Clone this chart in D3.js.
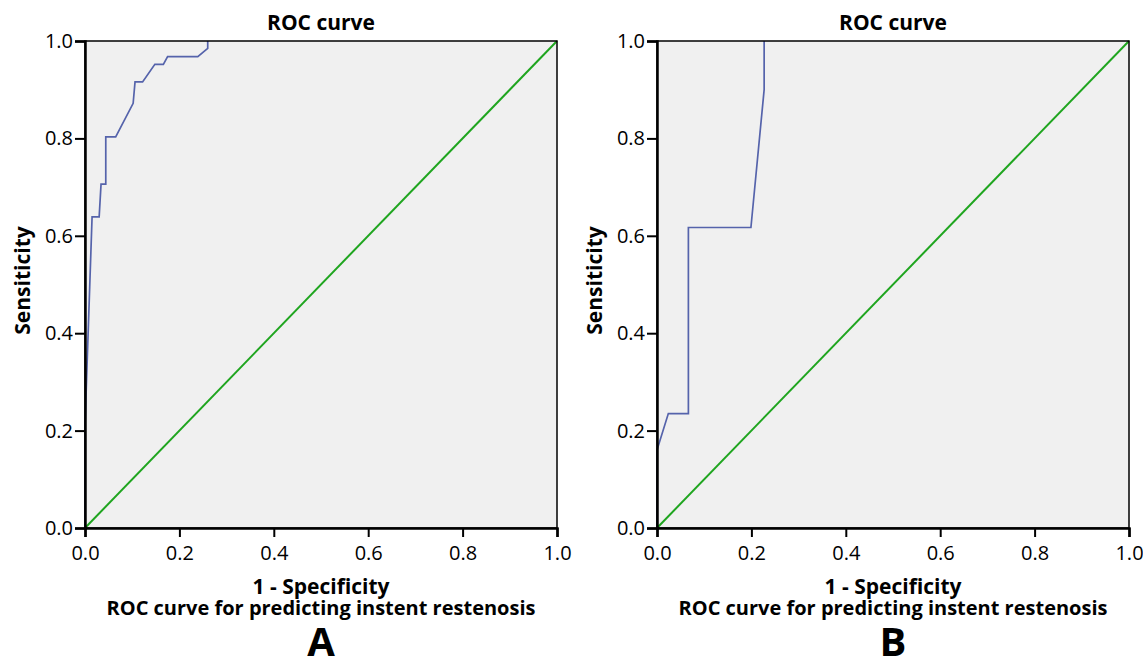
<!DOCTYPE html>
<html>
<head>
<meta charset="utf-8">
<script src="https://cdn.jsdelivr.net/npm/d3@7"></script>
<style>
  body { margin: 0; background: #fff; }
  svg text { font-family: "Open Sans", "Noto Sans", sans-serif; fill: #000; }
</style>
</head>
<body>
<svg id="chart" width="1143" height="660"></svg>
<script>
// ROC points (1 - specificity, sensitivity)
const fprA = [0, 0, 0.015, 0.030, 0.034, 0.044, 0.044, 0.065, 0.102, 0.106, 0.122, 0.148, 0.166, 0.175, 0.239, 0.260, 0.260];
const tprA = [0, 0.21, 0.639, 0.639, 0.706, 0.706, 0.803, 0.803, 0.872, 0.916, 0.916, 0.952, 0.952, 0.968, 0.968, 0.985, 1.0];
const fprB = [0, 0, 0.024, 0.0665, 0.0665, 0.199, 0.227, 0.227];
const tprB = [0, 0.16, 0.235, 0.235, 0.617, 0.617, 0.90, 1.0];
const refLine = [0, 1];
const ticks = [0, 0.2, 0.4, 0.6, 0.8, 1.0];
const panelLetters = ["A", "B"];

const svg = d3.select("#chart");

// one panel = one ROC plot
function drawPanel(left, fpr, tpr, letter) {
    const w = 472, h = 487, top = 41;
    const g = svg.append("g").attr("transform", `translate(${left},${top})`);

    const x = d3.scaleLinear().domain([0, 1]).range([0, w]);
    const y = d3.scaleLinear().domain([0, 1]).range([h, 0]);

    g.append("rect")
        .attr("width", w).attr("height", h)
        .attr("fill", "#f0f0f0");

    const line = d3.line()
        .x(d => x(d[0]))
        .y(d => y(d[1]));

    // reference diagonal
    g.append("path")
        .datum(refLine.map(v => [v, v]))
        .attr("d", line)
        .attr("fill", "none")
        .attr("stroke", "#1fa51f")
        .attr("stroke-width", 2);

    g.append("path")
        .datum(fpr.map((v, i) => [v, tpr[i]]))
        .attr("d", line)
        .attr("fill", "none")
        .attr("stroke", "#5563ab")
        .attr("stroke-width", 1.7);

    // frame
    g.append("rect")
        .attr("width", w).attr("height", h)
        .attr("fill", "none")
        .attr("stroke", "#000")
        .attr("stroke-width", 1.5);

    const xAxis = g.append("g")
        .attr("transform", `translate(0,${h})`)
        .call(d3.axisBottom(x).tickValues(ticks).tickFormat(d3.format(".1f")).tickSize(9).tickPadding(9));
    const yAxis = g.append("g")
        .call(d3.axisLeft(y).tickValues(ticks).tickFormat(d3.format(".1f")).tickSize(10).tickPadding(2));

    [xAxis, yAxis].forEach(a => {
        a.select(".domain").attr("stroke", "#000").attr("stroke-width", 2.5);
        a.selectAll(".tick line").attr("stroke", "#000").attr("stroke-width", 2);
        a.selectAll(".tick text").attr("font-size", 20).attr("font-family", "Open Sans, sans-serif");
    });

    g.append("text")
        .attr("x", w / 2).attr("y", -11)
        .attr("text-anchor", "middle")
        .attr("font-size", 21).attr("font-weight", "bold")
        .text("ROC curve");

    g.append("text")
        .attr("transform", `translate(-55,${h / 2 - 4}) rotate(-90)`)
        .attr("text-anchor", "middle")
        .attr("font-size", 21).attr("font-weight", "bold")
        .text("Sensiticity");

    g.append("text")
        .attr("x", w / 2).attr("y", h + 66)
        .attr("text-anchor", "middle")
        .attr("font-size", 21).attr("font-weight", "bold")
        .text("1 - Specificity");

    g.append("text")
        .attr("x", w / 2).attr("y", h + 87)
        .attr("text-anchor", "middle")
        .attr("font-size", 20).attr("font-weight", "bold")
        .text("ROC curve for predicting instent restenosis");

    g.append("text")
        .attr("x", w / 2).attr("y", h + 128)
        .attr("text-anchor", "middle")
        .attr("font-size", 40).attr("font-weight", "bold")
        .text(letter);
}

drawPanel(85, fprA, tprA, panelLetters[0]);
drawPanel(657, fprB, tprB, panelLetters[1]);
</script>
</body>
</html>
